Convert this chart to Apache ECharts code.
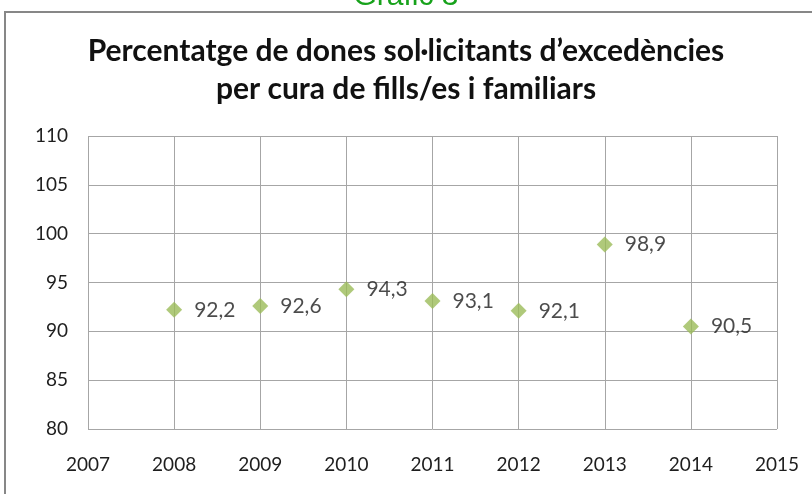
<!DOCTYPE html>
<html>
<head>
<meta charset="utf-8">
<script src="https://cdn.jsdelivr.net/npm/echarts@6/dist/echarts.min.js"></script>
<style>
  html, body { margin: 0; padding: 0; background: #fff; }
  #chart { width: 812px; height: 494px; }
</style>
</head>
<body>
<div id="chart"></div>
<script>
const years = [2008, 2009, 2010, 2011, 2012, 2013, 2014];
const percentatge = [92.2, 92.6, 94.3, 93.1, 92.1, 98.9, 90.5];
const titleText = "Percentatge de dones sol·licitants d’excedències\nper cura de fills/es i familiars";

const chart = echarts.init(document.getElementById('chart'));
const gridColor = '#a6a6a6';
const txtFont = 'Lato, "Open Sans", sans-serif';

const option = {
  animation: false,
  graphic: [
    {
      type: 'rect',
      shape: { x: 5, y: 12, width: 830, height: 500 },
      style: { fill: 'none', stroke: '#878787', lineWidth: 2 }
    },
    {
      type: 'text',
      left: 'center',
      top: -18,
      style: { text: 'Gràfic 3', fill: '#17a21b', font: '30px "Liberation Sans", Arial, sans-serif' }
    }
  ],
  title: {
    text: titleText,
    left: 'center',
    top: 27,
    textStyle: { fontFamily: txtFont, fontSize: 30, fontWeight: 'bold', color: '#111', lineHeight: 38 }
  },
  grid: { left: 88, right: 35, top: 136, bottom: 65 },
  xAxis: {
    type: 'value',
    min: 2007, max: 2015, interval: 1,
    axisLine: { show: false },
    axisTick: { show: false },
    splitLine: { show: true, lineStyle: { color: gridColor, width: 1 } },
    axisLabel: { margin: 26, fontFamily: txtFont, fontSize: 19, color: '#1e1e1e', formatter: v => String(v) }
  },
  yAxis: {
    type: 'value',
    min: 80, max: 110, interval: 5,
    axisLine: { show: false },
    axisTick: { show: false },
    splitLine: { show: true, lineStyle: { color: gridColor, width: 1 } },
    axisLabel: { margin: 20, fontFamily: txtFont, fontSize: 19, color: '#1e1e1e' }
  },
  series: [{
    type: 'scatter',
    symbol: 'diamond',
    symbolSize: [16, 16],
    itemStyle: { color: '#9bbb59' },
    data: years.map((y, i) => [y, percentatge[i]]),
    label: {
      show: true,
      position: 'right',
      distance: 12,
      fontFamily: txtFont,
      fontSize: 21,
      color: '#1e1e1e',
      formatter: p => String(p.value[1]).replace('.', ',')
    }
  }]
};
chart.setOption(option);
</script>
</body>
</html>
